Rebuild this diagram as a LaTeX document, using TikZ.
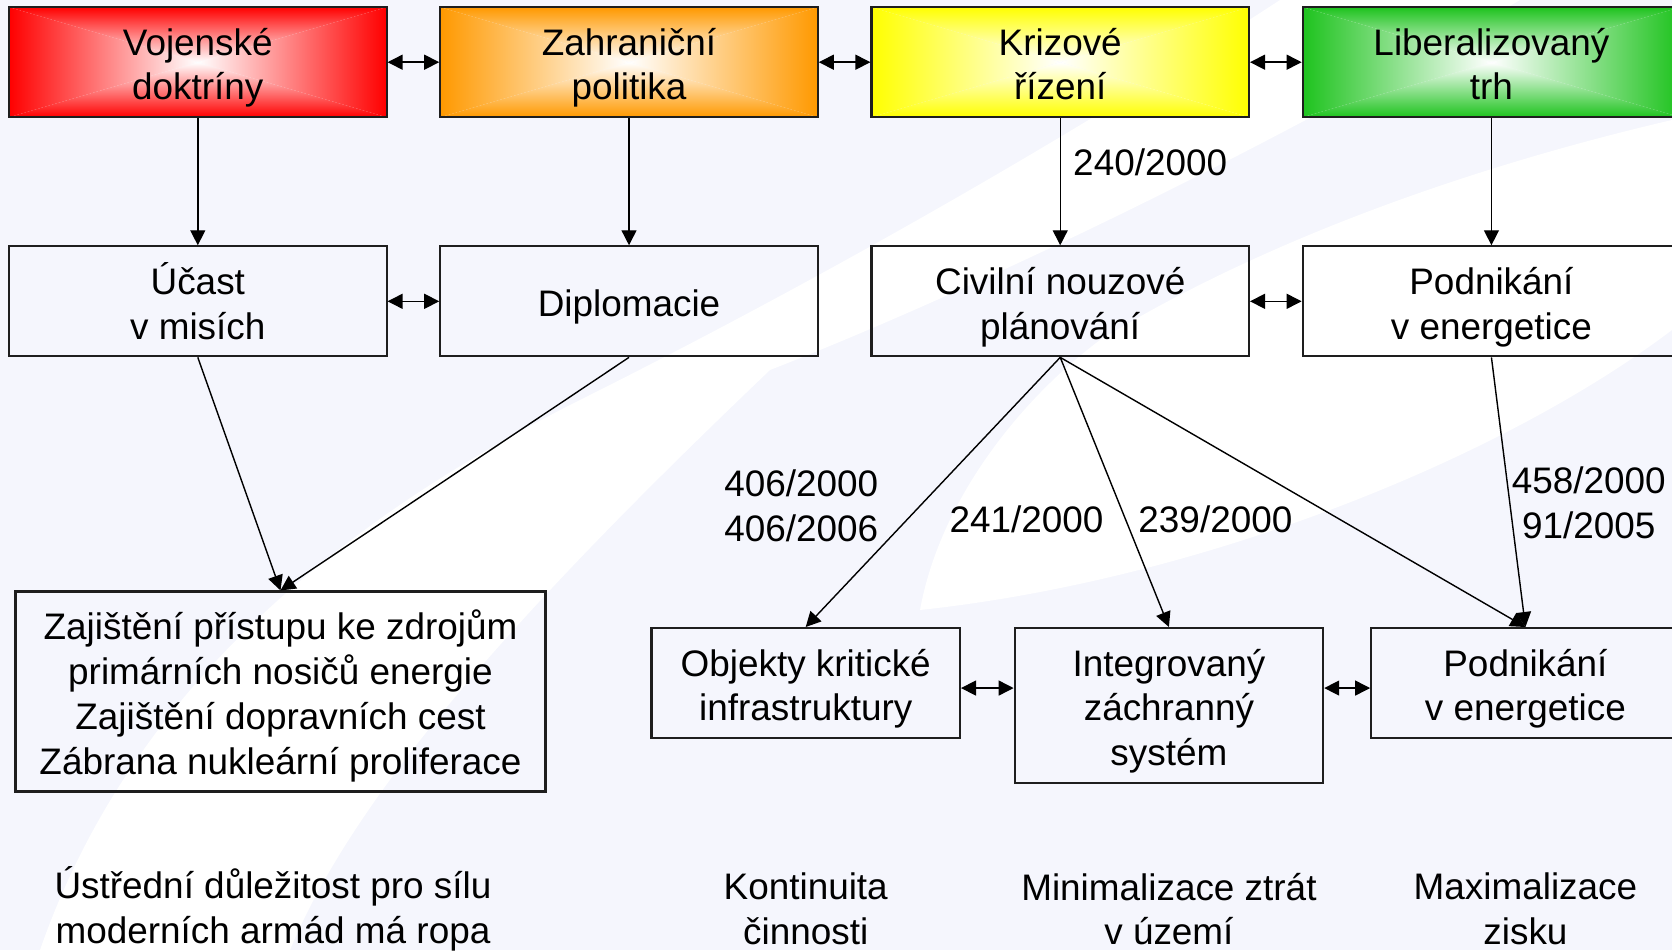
\documentclass[tikz,border=0pt]{standalone}
\usepackage{fontspec}
\setmainfont{Liberation Sans}
\usetikzlibrary{arrows.meta,positioning,calc}
\definecolor{vojRed}{RGB}{255,0,0}
\definecolor{zahOrange}{RGB}{255,153,0}
\definecolor{kriYellow}{RGB}{255,255,0}
\definecolor{libGreen}{RGB}{30,195,30}
\definecolor{bgLavender}{RGB}{245,246,253}
\definecolor{frameGrey}{RGB}{30,30,30}
\newcommand{\boxfont}{\fontsize{10.5}{12.75}\selectfont}
% fixed height of first line and depth of last line
\newcommand{\lineTop}{\rule{0pt}{12.55pt}}
\newcommand{\lineBot}{\rule[-3.8pt]{0pt}{0pt}}
\tikzset{
    boxBase/.style={
        rectangle,
        draw=frameGrey,
        line width=0.6pt,
        minimum width=3.775cm,
        minimum height=1.1cm,
        inner sep=0pt,
        font=\boxfont,
        align=center
    },
    % colour runs from the border into a white centre
    glow/.style={boxBase, path picture={
        \coordinate (m) at (path picture bounding box.center);
        \shade[top color=#1, bottom color=white] (path picture bounding box.north west) -- (path picture bounding box.north east) -- (m) -- cycle;
        \shade[bottom color=#1, top color=white] (path picture bounding box.south west) -- (path picture bounding box.south east) -- (m) -- cycle;
        \shade[left color=#1, right color=white] (path picture bounding box.north west) -- (path picture bounding box.south west) -- (m) -- cycle;
        \shade[right color=#1, left color=white] (path picture bounding box.north east) -- (path picture bounding box.south east) -- (m) -- cycle;
    }},
    plain/.style={boxBase},
    small/.style={boxBase, minimum width=3.085cm},
    % Arrows
    arr/.style={-{Triangle[length=1.5mm,width=1.5mm]}, line width=0.4pt},
    biarr/.style={{Triangle[length=1.5mm,width=1.5mm]}-{Triangle[length=1.5mm,width=1.5mm]}, line width=0.4pt},
    lawLabel/.style={font=\boxfont, align=center, inner sep=3.5pt}
}

\begin{document}
\begin{tikzpicture}[x=1cm, y=-1cm]
\useasboundingbox (0,0) rectangle (16.72,9.5);
\clip (0,0) rectangle (16.72,9.5);

% watermark
\fill[bgLavender] (0,0) rectangle (16.72,9.5);
\fill[white] (0.4,9.5) .. controls (1.2,7.2) and (3.0,5.4) .. (5.8,4.0) .. controls (8.0,2.9) and (10.5,1.5) .. (12.8,0)
    -- (15.2,0) .. controls (12.5,1.6) and (9.5,3.0) .. (7.7,3.7) .. controls (5.5,5.8) and (3.6,7.8) .. (2.9,9.5) -- cycle;
\fill[white] (16.72,1.2) -- (16.72,3.3) .. controls (15,4.6) and (12,5.8) .. (9.2,6.1)
    .. controls (9.4,5.0) and (10.2,4.0) .. (11.0,3.4) .. controls (12.8,2.3) and (15.0,1.6) .. (16.72,1.2) -- cycle;

% top row
\node[glow=vojRed] (voj) at (1.978,0.622) {\lineTop Vojenské\\doktríny\lineBot};
\node[glow=zahOrange, right=0.516cm of voj] (zah) {\lineTop Zahraniční\\politika\lineBot};
\node[glow=kriYellow, right=0.516cm of zah] (kri) {\lineTop Krizové\\řízení\lineBot};
\node[glow=libGreen, right=0.516cm of kri] (lib) {\lineTop Liberalizovaný\\trh\lineBot};

% second row
\node[plain, below=1.27cm of voj] (uca) {\lineTop Účast\\v misích\lineBot};
\node[plain, below=1.27cm of zah] (dip) {\lineTop Diplomacie\lineBot};
\node[plain, below=1.27cm of kri] (civ) {\lineTop Civilní nouzové\\plánování\lineBot};
\node[plain, below=1.27cm of lib] (pod1) {\lineTop Podnikání\\v energetice\lineBot};

% results
\node[plain, minimum width=5.3cm, minimum height=2cm] (zaj) at (2.805,6.915)
    {\lineTop Zajištění přístupu ke zdrojům\\primárních nosičů energie\\Zajištění dopravních cest\\Zábrana nukleární proliferace\lineBot};
\node[small, anchor=north west] (obj) at (6.504,6.27) {\lineTop Objekty kritické\\infrastruktury\lineBot};
\node[small, minimum height=1.55cm, anchor=north west] (izs) at ([xshift=0.526cm]obj.north east) {\lineTop Integrovaný\\záchranný\\systém\lineBot};
\node[small, anchor=north west] (pod2) at ([xshift=0.459cm]izs.north east) {\lineTop Podnikání\\v energetice\lineBot};

% goals
\coordinate (goalLine) at (0,9.09);
\node[lawLabel] (goalMil) at (2.73,9.09) {Ústřední důležitost pro sílu\\moderních armád má ropa};
\node[lawLabel] (goalObj) at (obj |- goalLine) {Kontinuita\\činnosti};
\node[lawLabel] (goalIzs) at (izs |- goalLine) {Minimalizace ztrát\\v území};
\node[lawLabel] (goalPod) at (pod2 |- goalLine) {Maximalizace\\zisku};

% links
\draw[biarr] (voj) -- (zah);
\draw[biarr] (zah) -- (kri);
\draw[biarr] (kri) -- (lib);
\draw[biarr] (uca) -- (dip);
\draw[biarr] (civ) -- (pod1);
\draw[biarr] ([yshift=-0.5mm]obj.east) -- ([yshift=-0.5mm]obj.east -| izs.west);
\draw[biarr] ([yshift=-0.5mm]pod2.west -| izs.east) -- ([yshift=-0.5mm]pod2.west);

\draw[arr] (voj) -- (uca);
\draw[arr] (zah) -- (dip);
\draw[arr] (kri) -- node[lawLabel, pos=0.35, anchor=west] {240/2000} (civ);
\draw[arr] (lib) -- (pod1);

\draw[arr] (uca.south) -- (zaj.north);
\draw[arr] (dip.south) -- (zaj.north);
\draw[arr] (civ.south) -- node[lawLabel, pos=0.55, anchor=east, xshift=-2.9mm] {406/2000\\406/2006} (obj.north);
\draw[arr] (civ.south) -- node[lawLabel, pos=0.6, anchor=east, xshift=-0.9mm] {241/2000}
    node[lawLabel, pos=0.6, anchor=west] {239/2000} (izs.north);
\draw[arr] (civ.south) -- (pod2.north);
\draw[arr] (pod1.south) -- node[lawLabel, pos=0.54, anchor=west, xshift=-1.1mm] {458/2000\\91/2005} (pod2.north);
\end{tikzpicture}
\end{document}
